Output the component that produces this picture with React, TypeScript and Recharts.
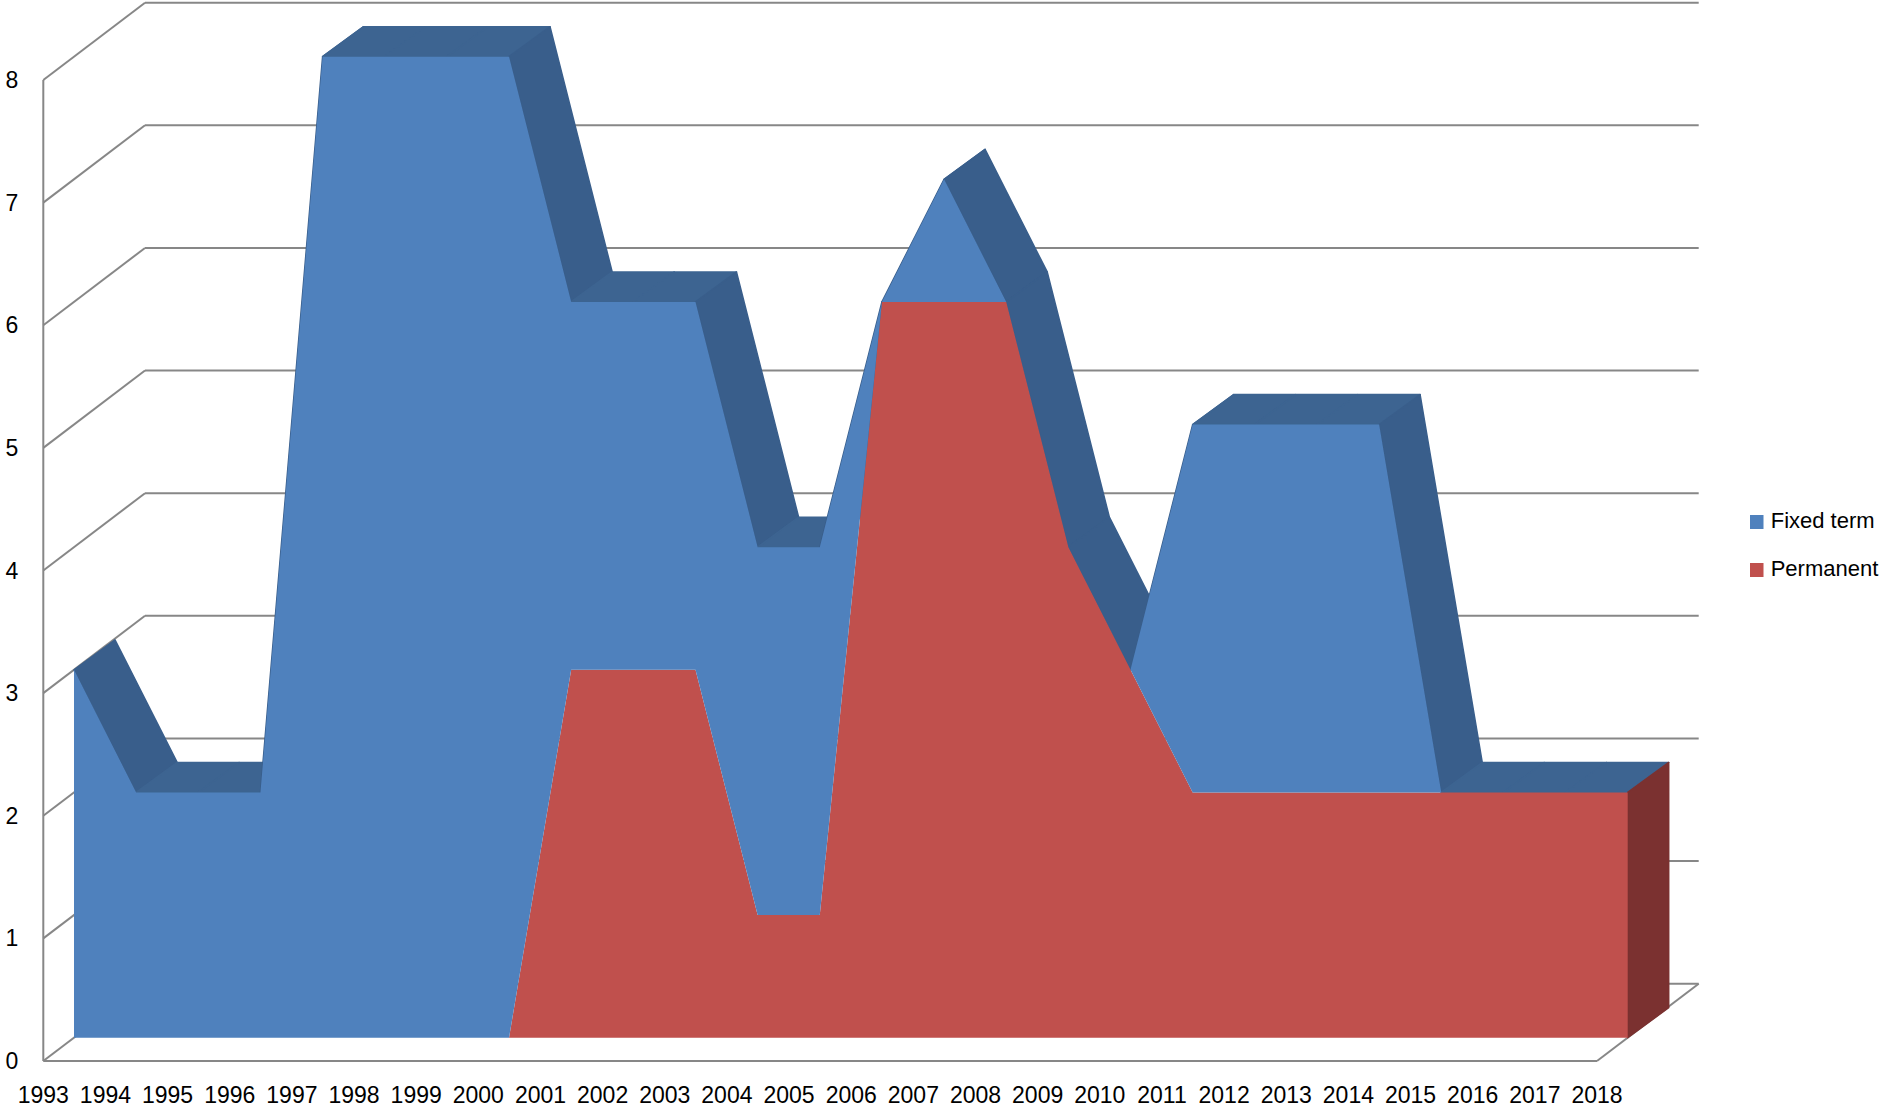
import React from 'react';
import { AreaChart, Area, XAxis, YAxis, ReferenceLine, Legend } from 'recharts';

const years = [
  '1993', '1994', '1995', '1996', '1997', '1998', '1999', '2000', '2001', '2002', '2003', '2004', '2005',
  '2006', '2007', '2008', '2009', '2010', '2011', '2012', '2013', '2014', '2015', '2016', '2017', '2018',
];
const permanent = [0, 0, 0, 0, 0, 0, 0, 0, 3, 3, 3, 1, 1, 6, 6, 6, 4, 3, 2, 2, 2, 2, 2, 2, 2, 2];
const fixedTerm = [3, 2, 2, 2, 8, 8, 8, 8, 3, 3, 3, 3, 3, 0, 1, 0, 0, 0, 3, 3, 3, 3, 0, 0, 0, 0];
const yTicks = [0, 1, 2, 3, 4, 5, 6, 7, 8];
const legendItems = [
  { name: 'Fixed term', color: '#4F81BD' },
  { name: 'Permanent', color: '#C0504D' },
];

const data = years.map((year, i) => ({
  year,
  permanent: permanent[i],
  fixedTerm: fixedTerm[i],
  total: permanent[i] + fixedTerm[i],
}));

const W = 1883;
const H = 1110;
const Y_AXIS_W = 60;
const X_AXIS_H = 40;
// plot area = front face of the 3D areas (x 74..1627.7, y 56.7..1037.7)
const PLOT_L = 74;
const PLOT_B = 1037.7;
const margin = { top: 56.7, right: 255.3, bottom: H - PLOT_B - X_AXIS_H, left: PLOT_L - Y_AXIS_W };
// 3D offsets relative to the area's front face
const FRONT = { dx: -30.7, dy: 23.3 }; // front floor edge / value axis
const BACK = { dx: 41, dy: -30 }; // depth of the areas
const WALL = { dx: 71, dy: -54 }; // back wall
const GRID = '#878787';
const FONT = '"Liberation Sans", Arial, sans-serif';

const gridShape = (v: number) => (p: any) => {
  const left = Math.min(p.x1, p.x2);
  const right = Math.max(p.x1, p.x2);
  const y = p.y1;
  return (
    <g>
      <line x1={left + FRONT.dx} y1={y + FRONT.dy} x2={left + WALL.dx} y2={y + WALL.dy} stroke={GRID} strokeWidth={2} />
      <line x1={left + WALL.dx} y1={y + WALL.dy} x2={right + WALL.dx} y2={y + WALL.dy} stroke={GRID} strokeWidth={2} />
      {v === 0 && (
        <>
          <line x1={left + FRONT.dx} y1={y + FRONT.dy} x2={right + FRONT.dx} y2={y + FRONT.dy} stroke={GRID} strokeWidth={2} />
          <line x1={right + FRONT.dx} y1={y + FRONT.dy} x2={right + WALL.dx} y2={y + WALL.dy} stroke={GRID} strokeWidth={2} />
        </>
      )}
    </g>
  );
};

const axisShape = (p: any) => (
  <line x1={p.x1 + FRONT.dx} y1={p.y1 + FRONT.dy} x2={p.x2 + FRONT.dx} y2={p.y2 + FRONT.dy} stroke={GRID} strokeWidth={2} />
);

const depthShape = (color: string) => (p: any) => {
  const pts = [
    [p.x1, p.y1],
    [p.x2, p.y2],
    [p.x2 + BACK.dx, p.y2 + BACK.dy],
    [p.x1 + BACK.dx, p.y1 + BACK.dy],
  ];
  return (
    <polygon
      points={pts.map((q) => q.join(',')).join(' ')}
      fill={color}
      stroke={color}
      strokeWidth={1.5}
      strokeLinejoin="round"
    />
  );
};

const YTick = (p: any) => (
  <text x={PLOT_L + FRONT.dx - 25} y={p.y + FRONT.dy + 8} textAnchor="end" fontSize={23} fontFamily={FONT} fill="#000">
    {p.payload.value}
  </text>
);

const XTick = (p: any) => (
  <text x={p.x + FRONT.dx} y={PLOT_B + FRONT.dy + 42} textAnchor="middle" fontSize={23} fontFamily={FONT} fill="#000">
    {p.payload.value}
  </text>
);

const renderLegend = () => (
  <svg width={133} height={90} style={{ display: 'block' }}>
    {legendItems.map((item, i) => (
      <g key={item.name}>
        <rect x={0} y={10 + i * 48} width={13.5} height={14} fill={item.color} />
        <text x={20.7} y={23.3 + i * 48} fontSize={22} fontFamily={FONT} fill="#000">
          {item.name}
        </text>
      </g>
    ))}
  </svg>
);

const layer: React.CSSProperties = { position: 'absolute', left: 0, top: 0 };

export default function App() {
  const last = data[data.length - 1];
  return (
    <div style={{ position: 'absolute', left: 0, top: 0, width: W, height: H, background: '#fff', overflow: 'hidden' }}>
      {/* back layer: walls, floor and depth faces */}
      <div style={layer}>
        <AreaChart width={W} height={H} data={data} margin={margin}>
          <XAxis dataKey="year" scale="point" height={X_AXIS_H} tick={false} axisLine={false} tickLine={false} />
          <YAxis domain={[0, 8]} ticks={yTicks} width={Y_AXIS_W} tick={false} axisLine={false} tickLine={false} />
          <Area dataKey="total" fill="none" stroke="none" isAnimationActive={false} />
          {yTicks.map((v) => (
            <ReferenceLine key={`g${v}`} y={v} ifOverflow="visible" shape={gridShape(v)} />
          ))}
          <ReferenceLine
            segment={[{ x: years[0], y: 0 }, { x: years[0], y: 8 }]}
            ifOverflow="visible"
            shape={axisShape}
          />
          {data.slice(0, -1).map((d, i) => {
            const n = data[i + 1];
            const color = d.total === n.total ? '#3D6491' : '#395E8B';
            return (
              <ReferenceLine
                key={`d${i}`}
                segment={[{ x: d.year, y: d.total }, { x: n.year, y: n.total }]}
                ifOverflow="visible"
                shape={depthShape(color)}
              />
            );
          })}
          <ReferenceLine
            segment={[{ x: last.year, y: 0 }, { x: last.year, y: last.permanent }]}
            ifOverflow="visible"
            shape={depthShape('#7B3130')}
          />
        </AreaChart>
      </div>
      {/* front layer: area faces, labels, legend */}
      <div style={layer}>
        <AreaChart width={W} height={H} data={data} margin={margin}>
          <XAxis
            dataKey="year"
            scale="point"
            height={X_AXIS_H}
            axisLine={false}
            tickLine={false}
            interval={0}
            tick={XTick}
          />
          <YAxis domain={[0, 8]} ticks={yTicks} width={Y_AXIS_W} axisLine={false} tickLine={false} tick={YTick} />
          <Area
            type="linear"
            dataKey="permanent"
            name="Permanent"
            stackId="a"
            fill="#C0504D"
            fillOpacity={1}
            stroke="none"
            isAnimationActive={false}
          />
          <Area
            type="linear"
            dataKey="fixedTerm"
            name="Fixed term"
            stackId="a"
            fill="#4F81BD"
            fillOpacity={1}
            stroke="none"
            isAnimationActive={false}
          />
          <Legend
            layout="vertical"
            align="center"
            verticalAlign="middle"
            content={renderLegend}
            wrapperStyle={{ left: 1750, top: 505, width: 133, height: 90 }}
          />
        </AreaChart>
      </div>
    </div>
  );
}
